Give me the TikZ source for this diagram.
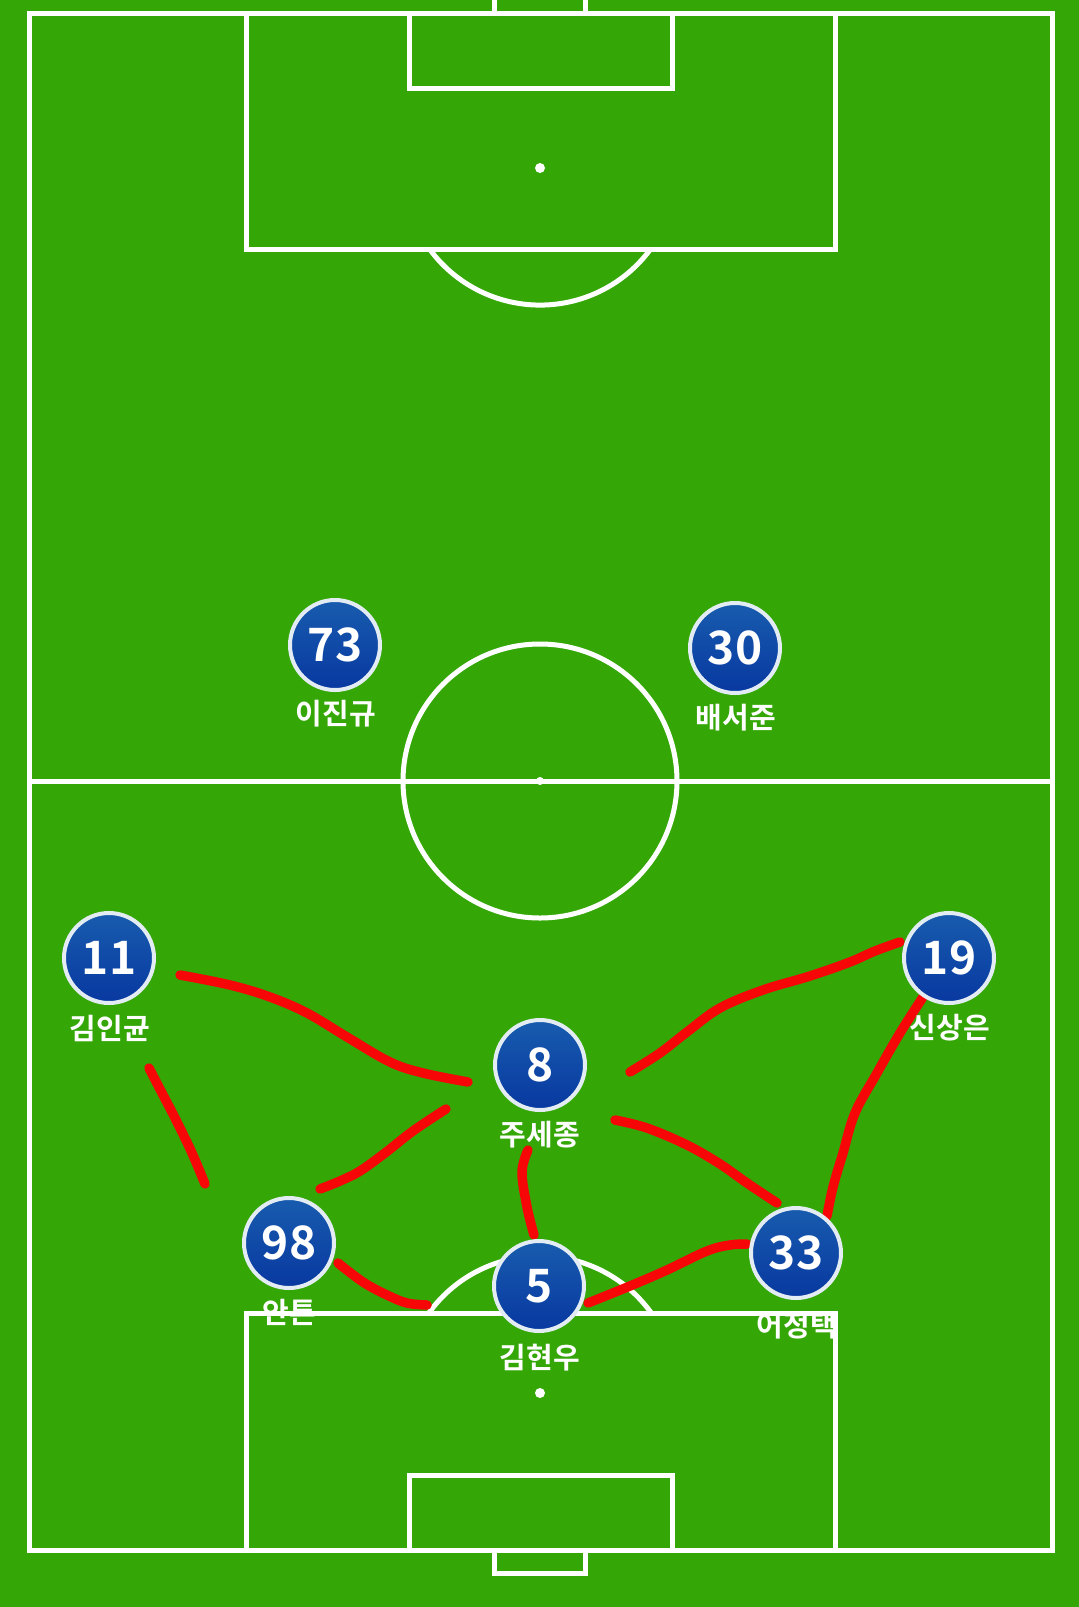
\documentclass[tikz,border=0pt]{standalone}
\usepackage{fontspec}
\newfontfamily\kr{Noto Sans CJK KR}[BoldFont={* Bold}]
\definecolor{field}{RGB}{52,167,6}
\definecolor{runred}{RGB}{246,6,6}
\definecolor{rim}{RGB}{226,236,242}
\definecolor{btop}{RGB}{24,92,174}
\definecolor{bbot}{RGB}{8,56,160}
\begin{document}
\begin{tikzpicture}[x=1pt,y=-1pt,
  pline/.style={draw=white, line width=5pt},
  spot/.style={fill=white},
  player/.style={circle, draw=rim, line width=4pt, minimum size=90pt, inner sep=0pt,
    top color=btop, bottom color=bbot, text=white,
    font=\kr\bfseries\fontsize{46}{46}\selectfont},
  pname/.style={text=white, inner sep=0pt, font=\kr\bfseries\fontsize{29}{29}\selectfont},
  run/.style={draw=runred, line width=9.5pt, line cap=round, line join=round}]
\useasboundingbox (0,0) rectangle (1079,1607);
\fill[field] (0,0) rectangle (1079,1607);
% pitch
\draw[pline] (29,13) rectangle (1052,1550);
\draw[pline] (29,781) -- (1052,781);
\draw[pline] (540,781) circle[radius=137];
\fill[spot] (540,781) circle[radius=4];
% top end
\draw[pline] (246,13) rectangle (835,249);
\draw[pline] (409,13) rectangle (672,88);
\draw[pline] (494,-10) rectangle (585,13);
\fill[spot] (540,168) circle[radius=5];
\draw[pline] (429.5,249) arc[start angle=143.8, end angle=36.2, radius=137];
% bottom end
\draw[pline] (246,1313) rectangle (835,1550);
\draw[pline] (409,1475) rectangle (672,1550);
\draw[pline] (494,1550) rectangle (585,1573);
\fill[spot] (540,1393) circle[radius=5];
\draw[pline] (428.8,1313) arc[start angle=-144.3, end angle=-35.7, radius=137];
% red runs
\coordinate (a1) at (180,975);
\coordinate (a2) at (468,1082);
\draw[run] plot[smooth, tension=0.6] coordinates {(a1) (230,985) (270,997) (307,1013) (347,1037) (390,1062) (423,1073) (a2)};
\draw[run] plot[smooth, tension=0.6] coordinates {(149,1068) (162,1093) (176,1120) (192,1153) (205,1184)};
\draw[run] plot[smooth, tension=0.6] coordinates {(446,1109) (413,1131) (385,1153) (360,1171) (340,1181) (320,1189)};
\draw[run] plot[smooth, tension=0.6] coordinates {(338,1263) (363,1282) (387,1295) (407,1303) (427,1305)};
\draw[run] plot[smooth, tension=0.6] coordinates {(528,1150) (522,1172) (527,1207) (534,1235)};
\draw[run] plot[smooth, tension=0.6] coordinates {(588,1303) (630,1286) (667,1270) (707,1251) (730,1245) (747,1244)};
\draw[run] plot[smooth, tension=0.6] coordinates {(615,1120) (647,1128) (687,1145) (720,1164) (747,1183) (777,1203)};
\draw[run] plot[smooth, tension=0.6] coordinates {(630,1072) (660,1053) (687,1032) (720,1008) (763,990) (810,976) (850,962) (875,951) (900,942)};
\draw[run] plot[smooth, tension=0.6] coordinates {(923,997) (900,1033) (877,1073) (855,1113) (843,1153) (833,1187) (827,1216)};
% players
\node[player] (p73) at (335,645) {73};
\node[player] (p30) at (735,648) {30};
\node[player] (p11) at (109,958) {11};
\node[player] (p19) at (949,958) {19};
\node[player] (p8) at (540,1065) {8};
\node[player] (p98) at (289,1243) {98};
\node[player] (p5) at (539,1286) {5};
\node[player] (p33) at (796,1253) {33};
% names
\node[pname] (n73) at (336,714) {이진규};
\node[pname] (n30) at (736,718) {배서준};
\node[pname] (n11) at (110,1028) {김인균};
\node[pname] (n19) at (950,1028) {신상은};
\node[pname] (n8) at (540,1135) {주세종};
\node[pname] (n98) at (289,1312) {안톤};
\node[pname] (n5) at (540,1358) {김현우};
\node[pname] (n33) at (797,1326) {어정택};
\end{tikzpicture}
\end{document}
